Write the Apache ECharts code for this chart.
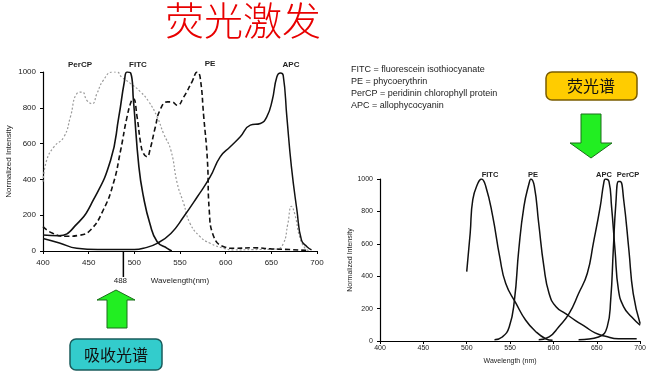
<!DOCTYPE html>
<html>
<head>
<meta charset="utf-8">
<title>荧光激发</title>
<script src="https://cdn.jsdelivr.net/npm/echarts@6/dist/echarts.min.js"></script>
<style>html,body{margin:0;padding:0;background:#fff}</style>
</head>
<body>
<div id="main" style="width:649px;height:376px"></div>
<script>
// absorption spectra (left), [nm, intensity]
var fitcAbs = [[400,89],[417,85],[437,150],[455,284],[474,507],[483,749],[489,944],[492,1000],[496,994],[499,842],[505,470],[510,303],[517,154],[525,52],[536,15],[541,0]];
var peAbs = [[400,136],[410,100],[425,82],[440,88],[452,117],[466,229],[477,377],[485,563],[492,749],[497,842],[499,851],[503,749],[507,600],[510,545],[514,526],[517,563],[523,693],[528,786],[536,833],[541,833],[547,814],[554,860],[563,944],[569,1000],[572,972],[576,749],[580,507],[582,229],[587,80],[598,24],[609,15],[630,18],[650,12],[670,8],[690,3]];
var percpAbs = [[400,387],[404,507],[412,582],[423,638],[430,749],[437,879],[443,888],[448,842],[454,823],[459,879],[466,953],[476,1000],[481,1000],[486,972],[496,935],[507,888],[516,833],[525,749],[532,656],[540,563],[547,377],[554,266],[561,154],[572,80],[583,43],[598,15],[609,6],[630,8],[655,10],[663,40],[668,150],[672,250],[676,200],[681,80],[687,15],[692,0]];
var apcAbs = [[400,70],[418,45],[437,15],[460,8],[500,8],[510,15],[525,43],[540,98],[554,191],[569,303],[583,414],[594,526],[605,582],[616,638],[627,703],[638,712],[645,749],[651,842],[656,972],[660,994],[663,981],[667,749],[672,470],[678,229],[683,61],[689,24],[694,6]];

// emission spectra (right)
var fitcEm = [[500,428],[504,665],[507,872],[513,975],[517,1000],[522,954],[530,769],[538,521],[545,355],[557,231],[568,128],[580,56],[591,14],[599,4]];
var peEm = [[532,8],[541,25],[549,87],[555,252],[560,562],[566,831],[572,975],[574,1000],[578,954],[583,727],[589,459],[595,293],[603,211],[614,169],[625,128],[637,87],[648,50],[660,29],[675,14],[696,14]];
var apcEm = [[583,8],[595,25],[606,87],[618,169],[629,293],[639,417],[646,603],[654,831],[658,975],[660,1000],[664,985],[667,831],[671,562],[675,314],[681,211],[690,149],[700,97]];
var percpEm = [[629,8],[652,25],[662,87],[666,252],[669,562],[672,851],[675,985],[677,985],[681,872],[687,562],[692,293],[700,107]];

var legendLines = [
    'FITC = fluorescein isothiocyanate',
    'PE = phycoerythrin',
    'PerCP = peridinin chlorophyll protein',
    'APC = allophycocyanin'
];
var excitationLine = 488;

var chart = echarts.init(document.getElementById('main'));
var font = 'Liberation Sans, Arial, sans-serif';

function xAx(grid, nameGap, fs, labelMargin, name) {
    return {
        type: 'value', gridIndex: grid, min: 400, max: 700, interval: 50,
        name: name, nameLocation: 'middle', nameGap: nameGap,
        nameTextStyle: {fontFamily: font, fontSize: fs, color: '#222'},
        axisLine: {lineStyle: {color: '#000', width: 1.2}},
        axisTick: {length: 3, lineStyle: {color: '#000'}},
        axisLabel: {fontFamily: font, fontSize: fs, color: '#222', margin: labelMargin},
        splitLine: {show: false}
    };
}
function yAx(grid, nameGap, fs) {
    return {
        type: 'value', gridIndex: grid, min: 0, max: 1000, interval: 200,
        name: 'Normalized Intensity', nameLocation: 'middle', nameGap: nameGap, nameRotate: 90,
        nameTextStyle: {fontFamily: font, fontSize: fs, color: '#222'},
        axisLine: {show: true, lineStyle: {color: '#000', width: 1.2}},
        axisTick: {show: true, length: 3, lineStyle: {color: '#000'}},
        axisLabel: {fontFamily: font, fontSize: fs, color: '#222', margin: 7,
            formatter: function (v) { return String(v); }},
        splitLine: {show: false}
    };
}
function line(data, xi, color, type, width) {
    return {
        type: 'line', xAxisIndex: xi, yAxisIndex: xi, data: data,
        showSymbol: false, smooth: 0.5, silent: true,
        lineStyle: {color: color, type: type, width: width}
    };
}

chart.setOption({
    animation: false,
    backgroundColor: '#fff',
    grid: [
        {left: 43, top: 72, width: 274, height: 179},
        {left: 380, top: 179, width: 262, height: 162}
    ],
    xAxis: [xAx(0, 26, 8, 8, 'Wavelength(nm)'), xAx(1, 17, 7, 4, 'Wavelength (nm)')],
    yAxis: [yAx(0, 30, 8), yAx(1, 26, 7)],
    series: [
        line(percpAbs, 0, '#999', [2, 2], 1.2),
        line(peAbs, 0, '#111', [5, 3], 1.6),
        line(apcAbs, 0, '#111', 'solid', 1.5),
        line(fitcAbs, 0, '#111', 'solid', 1.6),
        line(fitcEm, 1, '#111', 'solid', 1.5),
        line(peEm, 1, '#111', 'solid', 1.5),
        line(apcEm, 1, '#111', 'solid', 1.5),
        line(percpEm, 1, '#111', 'solid', 1.5)
    ]
});

var px = chart.convertToPixel({xAxisIndex: 0}, excitationLine);

function txt(x, y, s, size, extra) {
    var st = {text: s, fontFamily: font, fontSize: size, fill: '#222', align: 'center', verticalAlign: 'middle'};
    for (var k in extra) st[k] = extra[k];
    return {type: 'text', x: x, y: y, style: st};
}

var g = [
    txt(243, 20, '荧光激发', 39, {fill: '#e80000', fontFamily: 'Noto Sans CJK SC', fontWeight: 300}),
    txt(80, 65, 'PerCP', 8, {fontWeight: 'bold'}),
    txt(138, 65, 'FITC', 8, {fontWeight: 'bold'}),
    txt(210, 64, 'PE', 8, {fontWeight: 'bold'}),
    txt(291, 65, 'APC', 8, {fontWeight: 'bold'}),
    txt(490, 175, 'FITC', 7.5, {fontWeight: 'bold'}),
    txt(533, 175, 'PE', 7.5, {fontWeight: 'bold'}),
    txt(604, 175, 'APC', 7.5, {fontWeight: 'bold'}),
    txt(628, 175, 'PerCP', 7.5, {fontWeight: 'bold'}),
    {type: 'line', shape: {x1: px, y1: 251, x2: px, y2: 277}, style: {stroke: '#000', lineWidth: 1.5}},
    txt(px - 3, 281, String(excitationLine), 8),
    // yellow box + arrow
    {type: 'rect', shape: {x: 546, y: 72, width: 91, height: 28, r: 6},
        style: {fill: '#ffcc00', stroke: '#7a5c00', lineWidth: 1.5}},
    txt(591, 86, '荧光谱', 16, {fill: '#111', fontFamily: 'Noto Sans CJK SC'}),
    {type: 'polygon', shape: {points: [[581,114],[601,114],[601,143],[612,143],[591,158],[570,143],[581,143]]},
        style: {fill: '#22ee22', stroke: '#1a6e1a', lineWidth: 1}},
    // up arrow + teal box
    {type: 'polygon', shape: {points: [[116,290],[135,300],[127,300],[127,328],[107,328],[107,300],[97,300]]},
        style: {fill: '#22ee22', stroke: '#1a6e1a', lineWidth: 1}},
    {type: 'rect', shape: {x: 70, y: 339, width: 92, height: 31, r: 6},
        style: {fill: '#33cccc', stroke: '#1a5c5c', lineWidth: 1.5}},
    txt(116, 355, '吸收光谱', 16, {fill: '#111', fontFamily: 'Noto Sans CJK SC'})
];
for (var i = 0; i < legendLines.length; i++) {
    g.push(txt(351, 70 + i * 12, legendLines[i], 9, {align: 'left', fill: '#222'}));
}
chart.setOption({graphic: g});
</script>
</body>
</html>
